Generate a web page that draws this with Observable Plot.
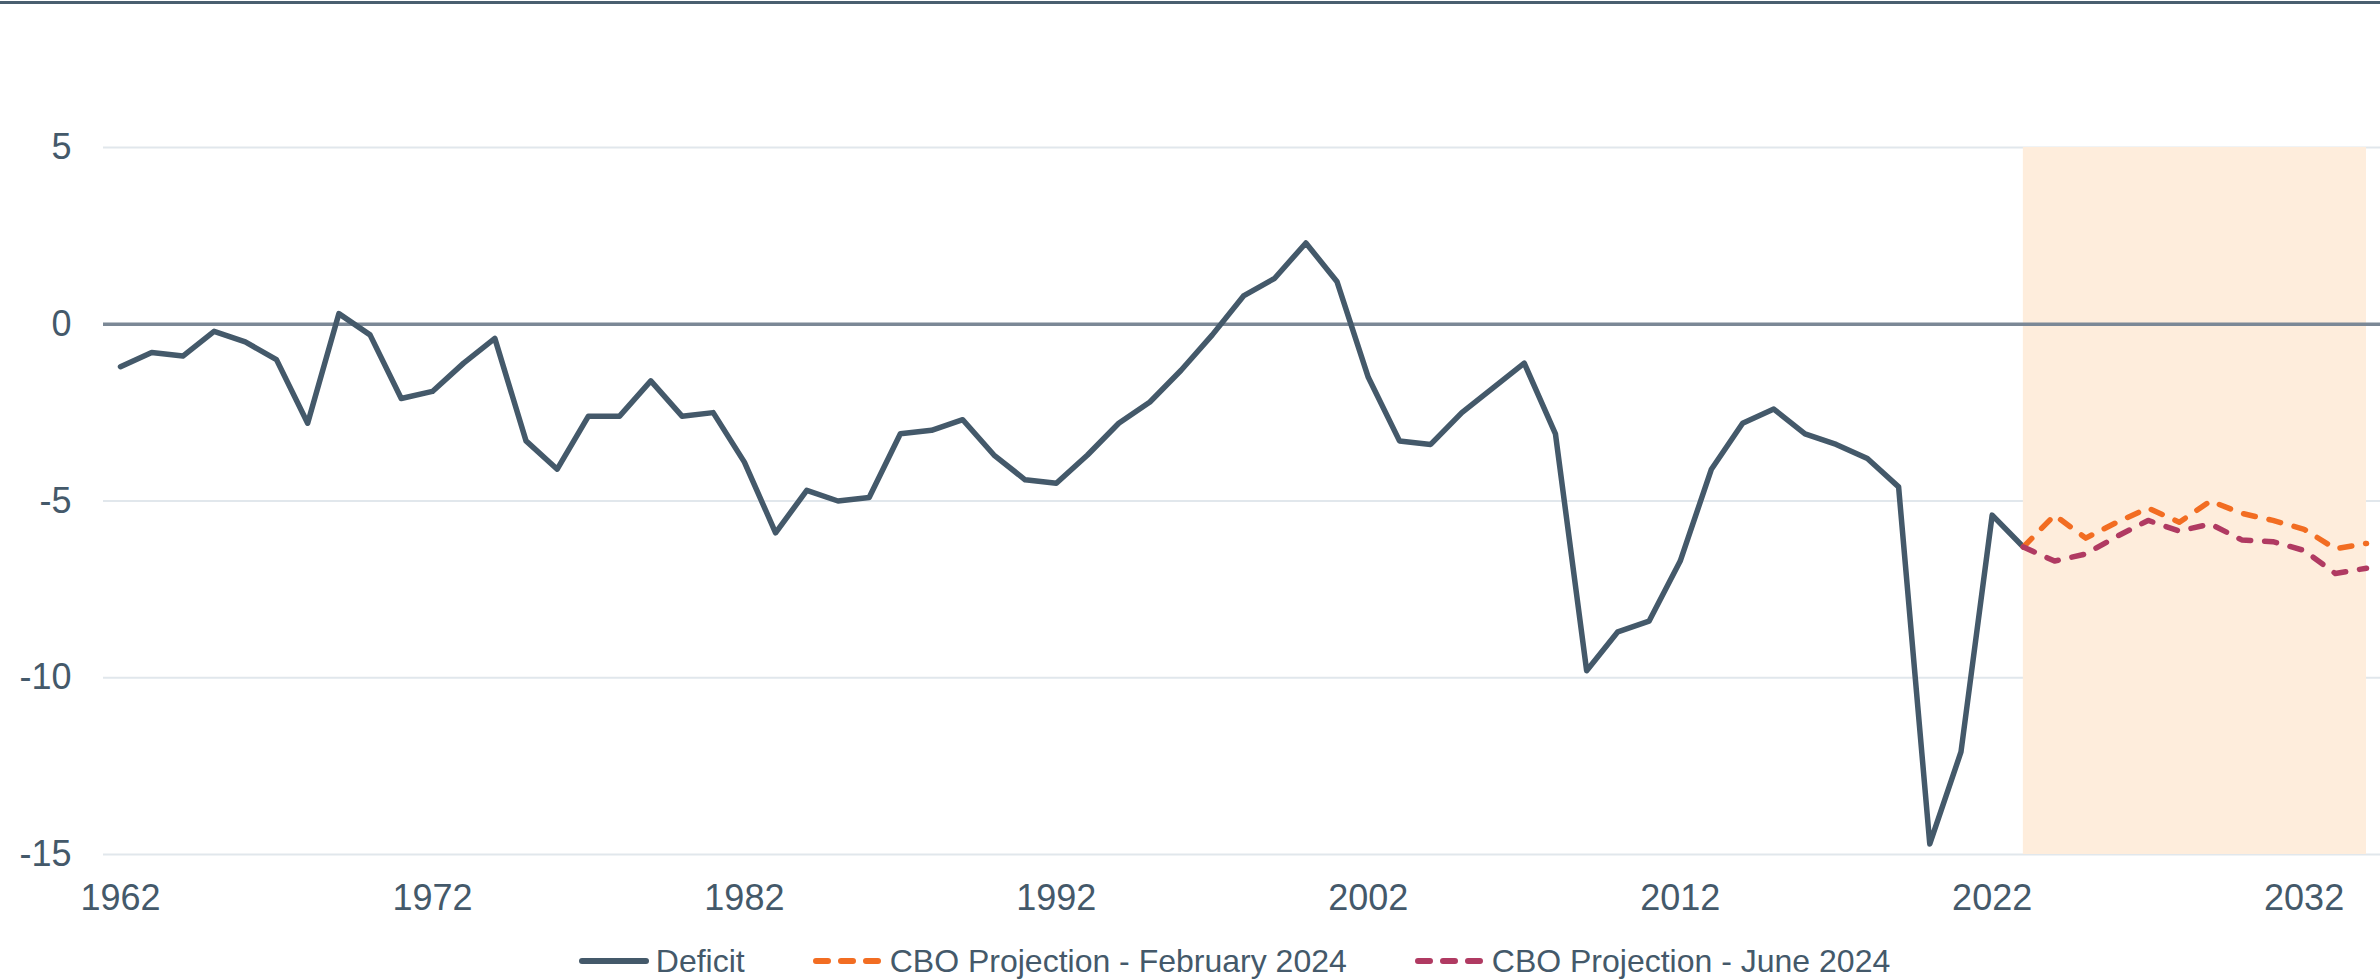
<!DOCTYPE html>
<html>
<head>
<meta charset="utf-8">
<script src="https://cdn.jsdelivr.net/npm/d3@7"></script>
<script src="https://cdn.jsdelivr.net/npm/@observablehq/plot@0.6"></script>
<style>
  html, body { margin: 0; padding: 0; background: #fff; }
  body { width: 2380px; height: 980px; overflow: hidden; font-family: "Liberation Sans", Arial, sans-serif; color: #44596a; }
  #topline { margin-top: 1px; height: 3px; background: #4a5f70; }
  #chart svg { display: block; }
  #legend { height: 38px; padding-top: 12px; padding-left: 89px; display: flex; justify-content: center; align-items: center; gap: 68px; font-size: 32px; line-height: 38px; }
  .item { display: flex; align-items: center; }
  .item svg { display: block; margin-right: 7px; }
</style>
</head>
<body>
<div id="topline"></div>
<div id="chart"></div>
<div id="legend"></div>
<script>
// ---- data ----
const deficitYears = [1962,1963,1964,1965,1966,1967,1968,1969,1970,1971,1972,1973,1974,1975,1976,1977,1978,1979,1980,1981,1982,1983,1984,1985,1986,1987,1988,1989,1990,1991,1992,1993,1994,1995,1996,1997,1998,1999,2000,2001,2002,2003,2004,2005,2006,2007,2008,2009,2010,2011,2012,2013,2014,2015,2016,2017,2018,2019,2020,2021,2022,2023];
const deficitValues = [-1.2,-0.8,-0.9,-0.2,-0.5,-1.0,-2.8,0.3,-0.3,-2.1,-1.9,-1.1,-0.4,-3.3,-4.1,-2.6,-2.6,-1.6,-2.6,-2.5,-3.9,-5.9,-4.7,-5.0,-4.9,-3.1,-3.0,-2.7,-3.7,-4.4,-4.5,-3.7,-2.8,-2.2,-1.3,-0.3,0.8,1.3,2.3,1.2,-1.5,-3.3,-3.4,-2.5,-1.8,-1.1,-3.1,-9.8,-8.7,-8.4,-6.7,-4.1,-2.8,-2.4,-3.1,-3.4,-3.8,-4.6,-14.7,-12.1,-5.4,-6.3];
const projectionYears = [2023,2024,2025,2026,2027,2028,2029,2030,2031,2032,2033,2034];
const febValues  = [-6.3,-5.4,-6.05,-5.6,-5.2,-5.6,-5.0,-5.35,-5.55,-5.8,-6.35,-6.2];
const juneValues = [-6.3,-6.7,-6.5,-6.0,-5.55,-5.85,-5.65,-6.1,-6.15,-6.4,-7.05,-6.9];
const xTicks = [1962,1972,1982,1992,2002,2012,2022,2032];
const yTicks = [5,0,-5,-10,-15];
const shadeStart = 2023, shadeEnd = 2034;
const seriesNames = ["Deficit","CBO Projection - February 2024","CBO Projection - June 2024"];
const seriesColors = ["#44596a","#f26d22","#b03a62"];

// ---- tables built from arrays ----
const deficit = deficitYears.map((y,i) => ({year: y, value: deficitValues[i]}));
const feb = projectionYears.map((y,i) => ({year: y, value: febValues[i]}));
const june = projectionYears.map((y,i) => ({year: y, value: juneValues[i]}));
const shade = [{x1: shadeStart, x2: shadeEnd}];

const pxPerYear = 31.2;
const chart = Plot.plot({
  width: 2380,
  height: 926,
  marginLeft: 103,
  marginRight: 0,
  marginTop: 143,
  marginBottom: 76,
  x: {domain: [1962 - 17/pxPerYear, 2034 + 14/pxPerYear], label: null},
  y: {domain: [-15, 5], label: null},
  style: {fontFamily: "'Liberation Sans', Arial, sans-serif", fontSize: "36px", color: "#44596a", background: "transparent"},
  marks: [
    Plot.gridY(yTicks, {stroke: "#e1e7ec", strokeOpacity: 1, strokeWidth: 2}),
    Plot.rect(shade, {x1: "x1", x2: "x2", y1: -15, y2: 5, fill: "#feeddc"}),
    Plot.ruleY([0], {stroke: "#7b8896", strokeWidth: 3.5}),
    Plot.line(deficit, {x: "year", y: "value", stroke: seriesColors[0], strokeWidth: 5.5, strokeLinejoin: "round", strokeLinecap: "round"}),
    Plot.line(feb, {x: "year", y: "value", stroke: seriesColors[1], strokeWidth: 5.5, strokeDasharray: "12,14", strokeLinecap: "round", strokeLinejoin: "round"}),
    Plot.line(june, {x: "year", y: "value", stroke: seriesColors[2], strokeWidth: 5.5, strokeDasharray: "12,14", strokeLinecap: "round", strokeLinejoin: "round"}),
    Plot.axisX({ticks: xTicks, tickSize: 0, tickPadding: 30, tickFormat: d => String(d), label: null}),
    Plot.axisY({ticks: yTicks, tickSize: 0, tickPadding: 32, tickFormat: d => String(d), label: null})
  ]
});
document.getElementById("chart").appendChild(chart);

// ---- legend ----
const legend = document.getElementById("legend");
seriesNames.forEach((name, i) => {
  const item = document.createElement("div");
  item.className = "item";
  const dashed = i > 0;
  const w = 70;
  item.innerHTML = `<svg width="${w}" height="12"><line x1="3" y1="6" x2="${w-3}" y2="6" stroke="${seriesColors[i]}" stroke-width="6" stroke-linecap="round" ${dashed ? 'stroke-dasharray="12,13"' : ''}/></svg><span>${name}</span>`;
  legend.appendChild(item);
});
</script>
</body>
</html>
